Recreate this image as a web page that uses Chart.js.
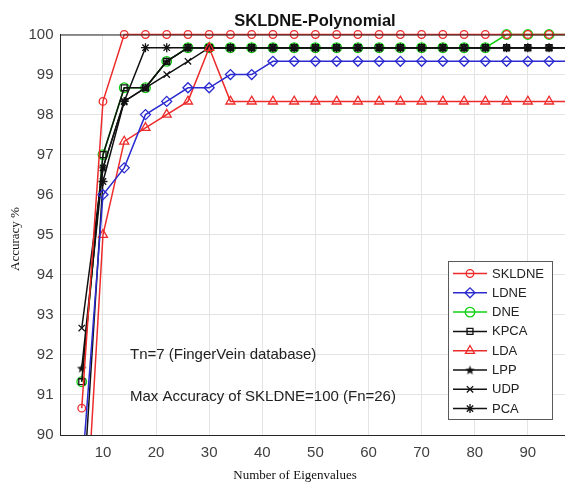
<!DOCTYPE html>
<html>
<head>
<meta charset="utf-8">
<script src="https://cdn.jsdelivr.net/npm/chart.js@4/dist/chart.umd.min.js"></script>
<style>
  html, body { margin: 0; padding: 0; background: #fff; }
  #wrap { width: 565px; height: 482px; }
</style>
</head>
<body>
<div id="wrap"><canvas id="accChart" width="565" height="482"></canvas></div>
<script>
// number of eigenvalues used (x) and recognition accuracy per method (y)
const eigenCounts = [6, 10, 14, 18, 22, 26, 30, 34, 38, 42, 46, 50, 54, 58, 62, 66, 70, 74, 78, 82, 86, 90, 94, 98];

const skldne = [90.67, 98.33, 100, 100, 100, 100, 100, 100, 100, 100, 100, 100, 100, 100, 100, 100, 100, 100, 100, 100, 100, 100, 100, 100];
const ldne   = [89.0, 96.0, 96.67, 98.0, 98.33, 98.67, 98.67, 99.0, 99.0, 99.33, 99.33, 99.33, 99.33, 99.33, 99.33, 99.33, 99.33, 99.33, 99.33, 99.33, 99.33, 99.33, 99.33, 99.33];
const dne    = [91.33, 97.0, 98.67, 98.67, 99.33, 99.67, 99.67, 99.67, 99.67, 99.67, 99.67, 99.67, 99.67, 99.67, 99.67, 99.67, 99.67, 99.67, 99.67, 99.67, 100, 100, 100, 100];
const kpca   = [91.33, 97.0, 98.67, 98.67, 99.33, 99.67, 99.67, 99.67, 99.67, 99.67, 99.67, 99.67, 99.67, 99.67, 99.67, 99.67, 99.67, 99.67, 99.67, 99.67, 99.67, 99.67, 99.67, 99.67];
const lda    = [86.0, 95.0, 97.33, 97.67, 98.0, 98.33, 99.67, 98.33, 98.33, 98.33, 98.33, 98.33, 98.33, 98.33, 98.33, 98.33, 98.33, 98.33, 98.33, 98.33, 98.33, 98.33, 98.33, 98.33];
const lpp    = [91.67, 96.67, 98.33, 98.67, 99.33, 99.67, 99.67, 99.67, 99.67, 99.67, 99.67, 99.67, 99.67, 99.67, 99.67, 99.67, 99.67, 99.67, 99.67, 99.67, 99.67, 99.67, 99.67, 99.67];
const udp    = [92.67, 96.67, 98.33, 98.67, 99.0, 99.33, 99.67, 99.67, 99.67, 99.67, 99.67, 99.67, 99.67, 99.67, 99.67, 99.67, 99.67, 99.67, 99.67, 99.67, 99.67, 99.67, 99.67, 99.67];
const pca    = [88.0, 96.33, 98.33, 99.67, 99.67, 99.67, 99.67, 99.67, 99.67, 99.67, 99.67, 99.67, 99.67, 99.67, 99.67, 99.67, 99.67, 99.67, 99.67, 99.67, 99.67, 99.67, 99.67, 99.67];

const xTicks = [10, 20, 30, 40, 50, 60, 70, 80, 90];
const yTicks = [90, 91, 92, 93, 94, 95, 96, 97, 98, 99, 100];

const RED = '#ee2b2b';
const BLUE = '#2b2bd0';
const GREEN = '#12d012';
const BLACK = '#111111';

// five-pointed star marker (no built-in pentagram in Chart.js)
function makePentagram(size) {
    const c = document.createElement('canvas');
    c.width = size; c.height = size;
    const g = c.getContext('2d');
    const cx = size / 2, cy = size / 2 + 0.5, ro = size / 2 - 0.5, ri = ro * 0.42;
    g.beginPath();
    for (let i = 0; i < 10; i++) {
        const r = i % 2 === 0 ? ro : ri;
        const a = -Math.PI / 2 + i * Math.PI / 5;
        g.lineTo(cx + r * Math.cos(a), cy + r * Math.sin(a));
    }
    g.closePath();
    g.fillStyle = BLACK;
    g.fill();
    return c;
}
const pentagram = makePentagram(11);

function toPoints(values) {
    return values.map((v, i) => ({ x: eigenCounts[i], y: v }));
}

function series(label, values, color, style, radius, order) {
    return {
        label: label,
        data: toPoints(values),
        borderColor: color,
        backgroundColor: color,
        borderWidth: 1.5,
        pointStyle: style,
        pointRadius: radius,
        pointBorderColor: color,
        pointBackgroundColor: 'rgba(0,0,0,0)',
        pointBorderWidth: 1.3,
        tension: 0,
        order: order,
        clip: { left: 10, top: 10, right: 0, bottom: 0 }
    };
}

const datasets = [
    series('SKLDNE', skldne, RED, 'circle', 3.8, 1),
    series('LDNE', ldne, BLUE, 'rectRot', 5, 2),
    series('DNE', dne, GREEN, 'circle', 4.8, 5),
    series('KPCA', kpca, BLACK, 'rect', 4.2, 4),
    series('LDA', lda, RED, 'triangle', 5.2, 2),
    series('LPP', lpp, BLACK, pentagram, 5, 4),
    series('UDP', udp, BLACK, 'crossRot', 4.5, 4),
    series('PCA', pca, BLACK, 'star', 4.5, 4)
];

// title, annotations, framing and the boxed legend inside the plot
const decorations = {
    id: 'decorations',
    afterDraw(chart) {
        const ctx = chart.ctx;
        const area = chart.chartArea;
        ctx.save();

        // top frame line
        ctx.strokeStyle = '#262626';
        ctx.lineWidth = 1;
        ctx.beginPath();
        ctx.moveTo(area.left, area.top + 0.5);
        ctx.lineTo(area.right, area.top + 0.5);
        ctx.stroke();

        ctx.fillStyle = '#111';
        ctx.textBaseline = 'middle';
        ctx.textAlign = 'center';
        ctx.font = 'bold 16.5px "Liberation Sans", Arial, sans-serif';
        ctx.fillText('SKLDNE-Polynomial', 315, 21);

        ctx.font = '13px "Liberation Serif", "Times New Roman", serif';
        ctx.fillText('Number of Eigenvalues', 295, 476);
        ctx.save();
        ctx.translate(16, 239);
        ctx.rotate(-Math.PI / 2);
        ctx.fillText('Accuracy %', 0, 0);
        ctx.restore();

        ctx.textAlign = 'left';
        ctx.fillStyle = '#222';
        ctx.font = '15px "Liberation Sans", Arial, sans-serif';
        ctx.fillText('Tn=7 (FingerVein database)', 130, 355);
        ctx.fillText('Max Accuracy of SKLDNE=100 (Fn=26)', 130, 397);

        // legend box
        const bx = 448.5, by = 261.5, bw = 104, bh = 158;
        ctx.fillStyle = '#fff';
        ctx.fillRect(bx, by, bw, bh);
        ctx.strokeStyle = '#5a5a5a';
        ctx.lineWidth = 1;
        ctx.strokeRect(bx, by, bw, bh);

        ctx.font = '13px "Liberation Sans", Arial, sans-serif';
        chart.data.datasets.forEach((ds, i) => {
            const y = 273.5 + i * 19.3;
            ctx.strokeStyle = ds.borderColor;
            ctx.lineWidth = ds.borderWidth;
            ctx.beginPath();
            ctx.moveTo(453, y);
            ctx.lineTo(487, y);
            ctx.stroke();

            ctx.lineWidth = ds.pointBorderWidth;
            ctx.strokeStyle = ds.pointBorderColor;
            ctx.fillStyle = ds.pointBackgroundColor;
            Chart.helpers.drawPoint(ctx, {
                pointStyle: ds.pointStyle,
                radius: ds.pointRadius,
                borderWidth: ds.pointBorderWidth,
                rotation: 0
            }, 470, y);

            ctx.fillStyle = '#222';
            ctx.fillText(ds.label, 492, y + 0.5);
        });

        ctx.restore();
    }
};

new Chart(document.getElementById('accChart'), {
    type: 'line',
    data: { datasets: datasets },
    options: {
        responsive: false,
        animation: false,
        events: [],
        layout: {
            autoPadding: false,
            padding: { top: 34.5, right: 0, bottom: 0, left: 0 }
        },
        plugins: {
            legend: { display: false },
            title: { display: false },
            tooltip: { enabled: false }
        },
        scales: {
            x: {
                type: 'linear',
                min: 2,
                max: 97,
                afterBuildTicks(scale) {
                    scale.ticks = xTicks.map(v => ({ value: v }));
                },
                afterFit(scale) {
                    scale.height = 47;
                    // the axis runs off the right edge, so no room is kept for end labels
                    scale.paddingLeft = 0;
                    scale.paddingRight = 0;
                },
                grid: { color: '#e4e4e4', lineWidth: 1, drawTicks: false },
                border: { display: true, color: '#262626', width: 1 },
                ticks: {
                    padding: 9,
                    color: '#404040',
                    font: { family: '"Liberation Sans", Arial, sans-serif', size: 15 },
                    maxRotation: 0
                }
            },
            y: {
                type: 'linear',
                min: 90,
                max: 100,
                afterBuildTicks(scale) {
                    scale.ticks = yTicks.map(v => ({ value: v }));
                },
                afterFit(scale) { scale.width = 60.5; },
                grid: { color: '#e4e4e4', lineWidth: 1, drawTicks: false },
                border: { display: true, color: '#262626', width: 1 },
                ticks: {
                    padding: 7,
                    color: '#404040',
                    font: { family: '"Liberation Sans", Arial, sans-serif', size: 15 }
                }
            }
        }
    },
    plugins: [decorations]
});
</script>
</body>
</html>
